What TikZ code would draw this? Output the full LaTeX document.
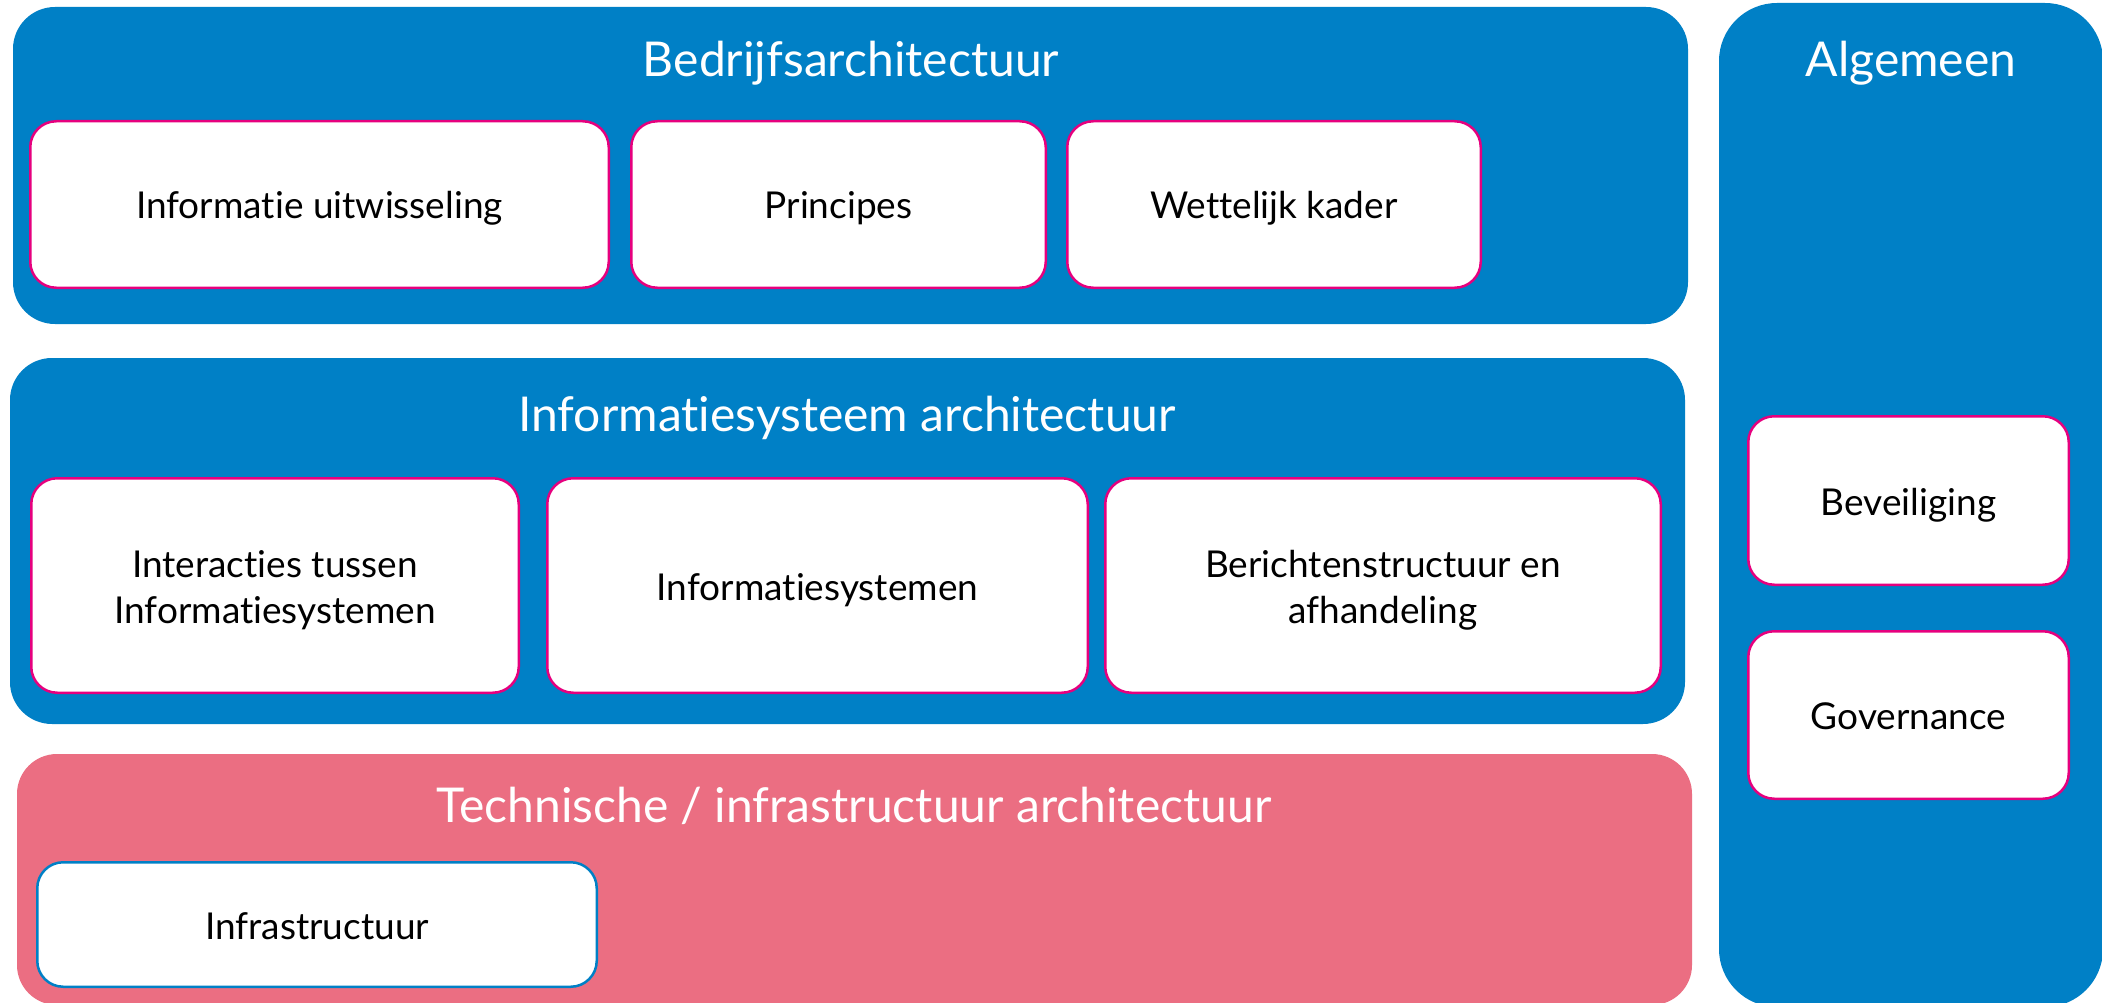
\documentclass[tikz,border=0pt]{standalone}
\usepackage{fontspec}
\setmainfont{Lato}[Ligatures=NoCommon]
\definecolor{panelblue}{HTML}{0080C6}
\definecolor{panelpink}{HTML}{EB6E82}
\definecolor{boxpink}{HTML}{E6007E}
% text block whose first baseline sits #1 above the node centre
\newcommand{\cardtxt}[2]{\smash{\raisebox{#1}{\begin{tabular}[t]{@{}c@{}}#2\end{tabular}}}}
\tikzset{
  panel/.style={draw=none, fill=panelblue, rounded corners=42pt, inner sep=0pt, outer sep=0pt},
  techpanel/.style={panel, fill=panelpink, rounded corners=40pt},
  sidepanel/.style={panel, rounded corners=58pt},
  card/.style={draw=boxpink, line width=2.5pt, fill=white, rounded corners=26pt,
    inner sep=0pt, text=black, font=\fontsize{37}{46}\selectfont},
  infracard/.style={card, draw=panelblue},
  paneltitle/.style={text=white, anchor=base, inner sep=0pt, font=\fontsize{48}{58}\selectfont}
}
\begin{document}
\begin{tikzpicture}[x=1pt, y=-1pt]
\useasboundingbox (0,0) rectangle (2102,1003);
\fill[white] (0,0) rectangle (2102,1003);
% panels
\node[panel, minimum width=1675pt, minimum height=317pt] (bedrijf) at (850.5,165.5) {};
\node[panel, minimum width=1675pt, minimum height=366pt] (infosys) at (847.5,541) {};
\node[techpanel, minimum width=1675pt, minimum height=251pt] (tech) at (854.5,879.5) {};
\node[sidepanel, minimum width=384pt, minimum height=1004pt] (algemeen) at (1911,505) {};
% titles
\node[paneltitle] (tbedrijf) at (851,77) {Bedrijfsarchitectuur};
\node[paneltitle] (tinfosys) at (847,431) {Informatiesysteem architectuur};
\node[paneltitle] (ttech) at (854,822) {Technische / infrastructuur architectuur};
\node[paneltitle] (talgemeen) at (1911,77) {Algemeen};
% cards
\node[card, minimum width=578.5pt, minimum height=166.5pt] (iu) at (319.5,204.5) {\cardtxt{-14.5pt}{Informatie uitwisseling}};
\node[card, minimum width=414.5pt, minimum height=166.5pt] (pr) at (838.5,204.5) {\cardtxt{-14.5pt}{Principes}};
\node[card, minimum width=413.5pt, minimum height=166.5pt] (wk) at (1274,204.5) {\cardtxt{-14.5pt}{Wettelijk kader}};
\node[card, minimum width=487.5pt, minimum height=214.5pt] (int) at (275,585.5) {\cardtxt{8.5pt}{Interacties tussen\\Informatiesystemen}};
\node[card, minimum width=540.5pt, minimum height=214.5pt] (isys) at (817.5,585.5) {\cardtxt{-14.5pt}{Informatiesystemen}};
\node[card, minimum width=555.5pt, minimum height=214.5pt] (ber) at (1383,585.5) {\cardtxt{8.5pt}{Berichtenstructuur en\\afhandeling}};
\node[infracard, minimum width=559.5pt, minimum height=124.5pt] (infra) at (317,924.5) {\cardtxt{-14.5pt}{Infrastructuur}};
\node[card, minimum width=320.5pt, minimum height=168.5pt] (bev) at (1908.5,500.5) {\cardtxt{-14.5pt}{Beveiliging}};
\node[card, minimum width=320.5pt, minimum height=167.5pt] (gov) at (1908.5,715) {\cardtxt{-14.5pt}{Governance}};
\end{tikzpicture}
\end{document}
